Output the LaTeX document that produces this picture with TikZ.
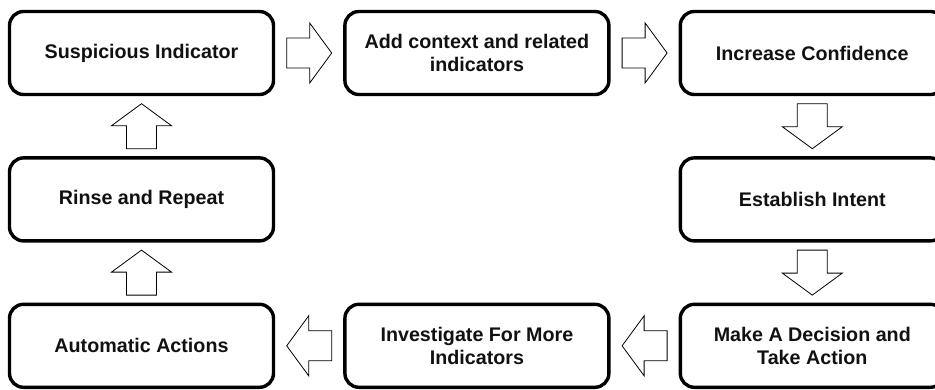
\documentclass[tikz,border=0pt]{standalone}
\usepackage{fontspec}
\setmainfont{Liberation Sans}
\usetikzlibrary{positioning, calc}
\definecolor{BoxLine}{HTML}{000000}
\definecolor{TextDark}{HTML}{111111}

\begin{document}
\begin{tikzpicture}[
    x=1pt, y=-1pt,
    node distance=60pt and 68pt,
    stage/.style={rectangle, draw=BoxLine, line width=3.4pt, rounded corners=14pt, minimum width=264pt, minimum height=83pt, align=center, font=\fontsize{19.7}{23}\selectfont\bfseries, text=TextDark},
    flow/.style={draw=BoxLine, line width=0.8pt, fill=white, to path={
        let \p1=($(\tikztostart)!0.5!(\tikztotarget)$),
            \p2=($(\tikztotarget)-(\tikztostart)$),
            \n1={atan2(\y2,\x2)}
        in {[shift={(\p1)}, rotate=\n1]
          (-22.5,-15) -- (0.5,-15) -- (0.5,-30) -- (22.5,0) -- (0.5,30) -- (0.5,15) -- (-22.5,15) -- cycle}}}
  ]
    \useasboundingbox (0,0) rectangle (935,389);

    \node[stage] (susp) at (141.5,53) {Suspicious Indicator};
    \node[stage, right=of susp] (context) {Add context and related\\indicators};
    \node[stage, right=of context] (conf) {Increase Confidence};
    \node[stage, below=of conf] (intent) {Establish Intent};
    \node[stage, below=of intent] (decide) {Make A Decision and\\Take Action};
    \node[stage, left=of decide] (invest) {Investigate For More\\Indicators};
    \node[stage, left=of invest] (auto) {Automatic Actions};
    \node[stage, above=of auto] (rinse) {Rinse and Repeat};

    \draw[flow] (susp) to (context);
    \draw[flow] (context) to (conf);
    \draw[flow] (conf) to (intent);
    \draw[flow] (intent) to (decide);
    \draw[flow] (decide) to (invest);
    \draw[flow] (invest) to (auto);
    \draw[flow] (auto) to (rinse);
    \draw[flow] (rinse) to (susp);
\end{tikzpicture}
\end{document}
